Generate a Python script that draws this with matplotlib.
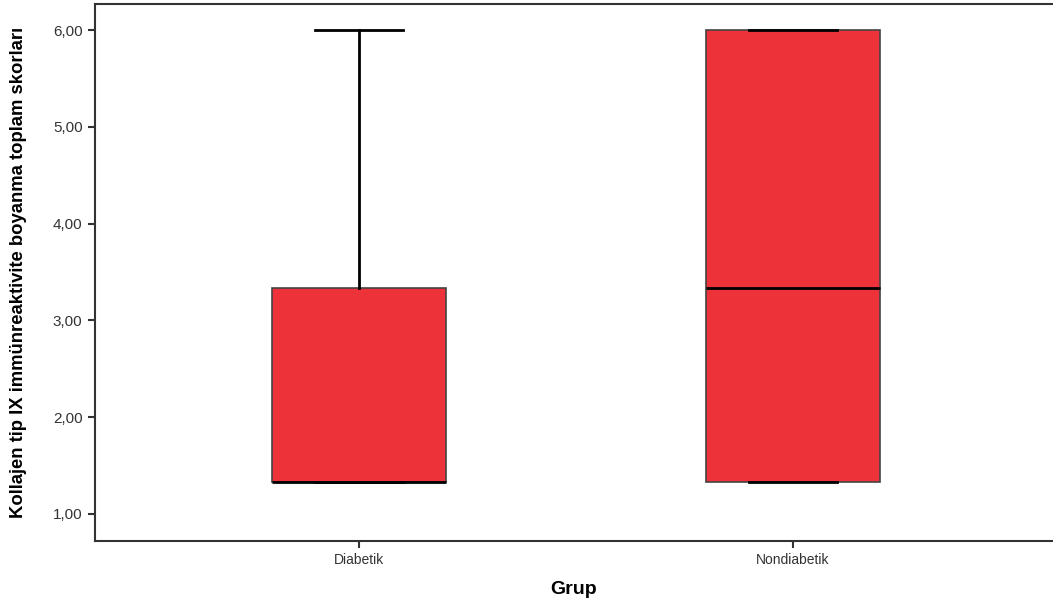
import matplotlib.pyplot as plt

# Box statistics
groups = ["Diabetik", "Nondiabetik"]
whisker_low = [1.33, 1.33]
q1 = [1.33, 1.33]
median = [1.33, 3.33]
q3 = [3.33, 6.00]
whisker_high = [6.00, 6.00]

yticks = [1, 2, 3, 4, 5, 6]

box_color = "#ee323a"

plt.rcParams['font.family'] = ['Liberation Sans', 'DejaVu Sans']

fig = plt.figure(figsize=(10.53, 6.06), dpi=100)
ax = fig.add_axes([0.0902, 0.1073, 0.9098, 0.886])

stats = []
for i, name in enumerate(groups):
    stats.append({
        "label": name,
        "whislo": whisker_low[i],
        "q1": q1[i],
        "med": median[i],
        "q3": q3[i],
        "whishi": whisker_high[i],
        "fliers": [],
    })

ax.bxp(stats, positions=[0, 1], widths=0.40, patch_artist=True,
       showfliers=False, capwidths=0.203,
       boxprops=dict(facecolor=box_color, edgecolor="#444444", linewidth=1.2),
       medianprops=dict(color="black", linewidth=2),
       whiskerprops=dict(color="black", linewidth=2),
       capprops=dict(color="black", linewidth=2))

ax.set_xlim(-0.608, 1.599)
ax.set_ylim(0.72, 6.27)
ax.set_yticks(yticks)
ax.set_yticklabels([f"{v:.2f}".replace(".", ",") for v in yticks],
                   fontsize=11, color="#333333")
ax.set_xticks([0, 1])
ax.set_xticklabels(groups, fontsize=10, color="#333333")
ax.tick_params(axis="both", length=5, width=1.5, color="#333333")
ax.tick_params(axis="y", pad=4)

for side in ["left", "bottom", "top"]:
    ax.spines[side].set_linewidth(1.5)
    ax.spines[side].set_color("#333333")
ax.spines["right"].set_visible(False)

ax.set_ylabel("Kollajen tip IX immünreaktivite boyanma toplam skorları",
              fontsize=13.3, fontweight="bold")
ax.yaxis.set_label_coords(-0.071, 0.5)
ax.set_xlabel("Grup", fontsize=14, fontweight="bold", labelpad=10)

fig.savefig("out.png", dpi=100)
